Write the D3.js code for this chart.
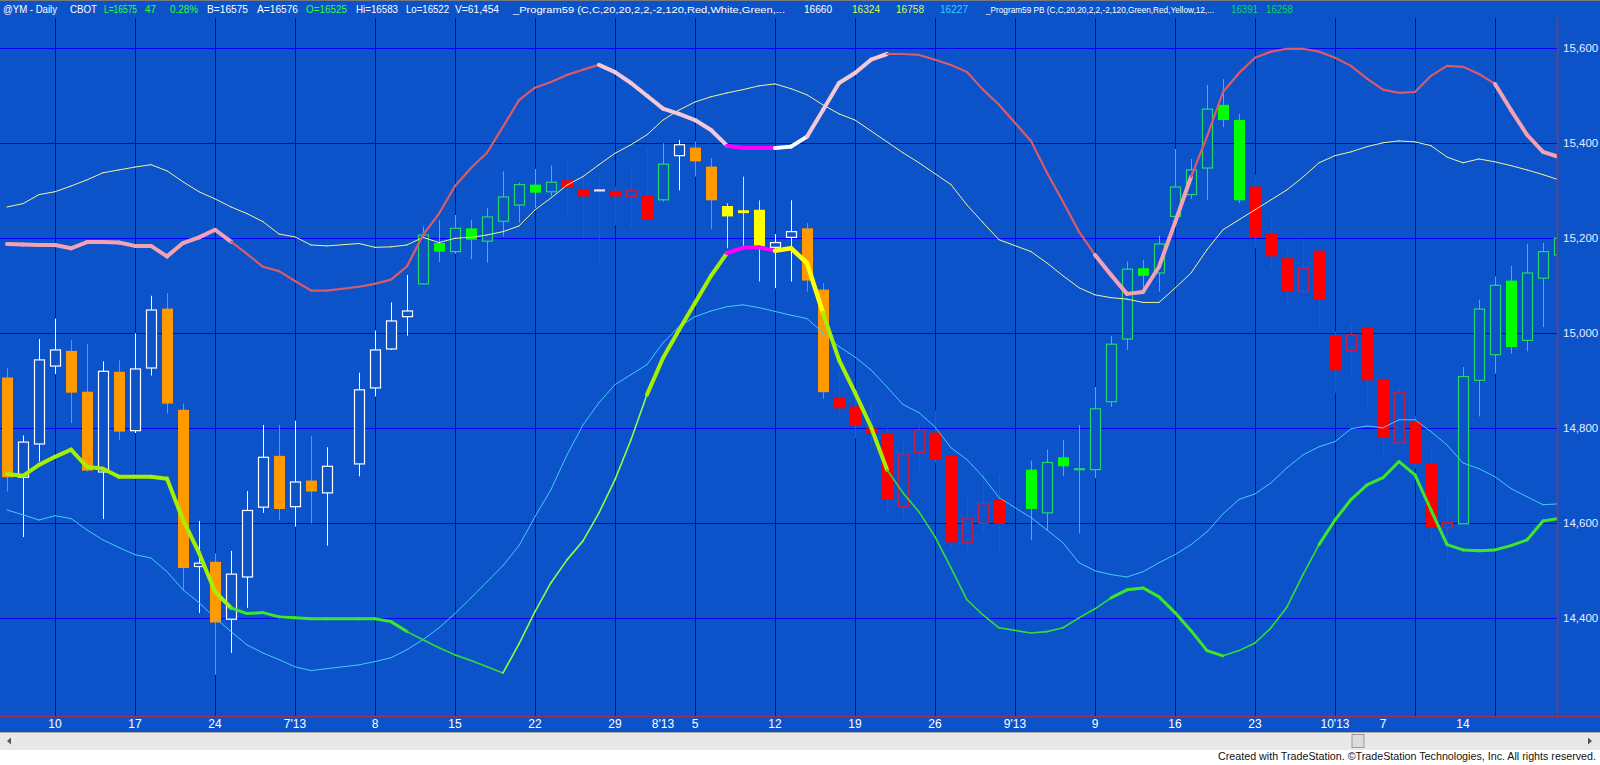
<!DOCTYPE html>
<html><head><meta charset="utf-8">
<script src="https://cdn.jsdelivr.net/npm/d3@7"></script>
<style>html,body{margin:0;padding:0;background:#fff;overflow:hidden}</style>
</head><body><svg id="c" width="1600" height="765"></svg>
<script>
// ---------- DATA ----------
const opens  = [14907,14697,14767,14931,14963,14877,14708,14919,14795,14927,15052,14839,14509,14519,14398,14487,14634,14742,14635,14690,14664,null,14725,14885,14967,15035,15104,15190,15172,15221,15194,15236,15270,15313,15298,15322,15304,15301,15300,15288,15289,15281,15374,15391,15351,15268,15259,15260,15181,15202,15221,15092,14864,14846,14800,14790,14635,14749,14791,14742,14560,14600,14650,null,14713,14622,14739,14714,14713,14856,14988,15137,15127,15246,15292,15348,15481,15449,15309,15209,15158,15088,15174,14995,14964,15013,14904,14769,14814,14725,14591,14599,14901,14955,15111,14985,15116,15165];
const highs  = [14927,14785,14988,15031,14986,14978,14941,14943,15000,15079,15085,14852,14605,14537,14542,14668,14807,14807,14816,14784,14760,null,14917,15006,15065,15123,15225,15239,15249,15239,15264,15341,15317,15346,15353,15367,15327,15327,15309,15346,15388,15400,15407,15404,15369,15274,15330,15280,15209,15280,15232,15106,14917,14867,14853,14800,14772,14814,14838,14744,14658,14709,14702,null,14732,14755,14776,14807,14887,14995,15151,15155,15206,15388,15367,15523,15535,15462,15334,15249,15184,15197,15174,15004,15018,15013,14904,14885,14826,14758,14660,14929,15071,15120,15142,15188,15190,15210];
const lows   = [14667,14571,14730,14914,14811,14709,14609,14776,14790,14911,14831,14460,14411,14281,14327,14422,14622,14607,14593,14600,14553,null,14699,14867,14965,14995,15104,15150,15167,15156,15149,15204,15233,15264,15289,15242,15200,15146,15228,15221,15239,15277,15301,15330,15219,15179,15183,15109,15095,15109,15088,14862,14832,14779,14762,14628,14604,14706,14727,14548,14541,14583,14544,null,14565,14586,14699,14579,14695,14845,14965,15092,15088,15246,15283,15281,15434,15274,15179,15137,15060,15085,15011,14875,14909,14845,14741,14769,14716,14563,14525,14599,14825,14915,14957,14962,15013,15150];
const closes = [14697,14771,14944,14965,14875,14711,14920,14793,14925,15049,14852,14506,14516,14391,14493,14627,14739,14630,14687,14667,14720,null,14881,14965,15026,15047,15207,15172,15221,15197,15245,15287,15313,15296,15318,15306,15288,15301,15288,15301,15239,15356,15397,15362,15280,15246,15253,15183,15191,15214,15111,14876,14842,14806,14790,14651,14746,14797,14735,14560,14611,14641,14599,null,14630,14728,14720,14714,14841,14977,15135,15121,15188,15308,15344,15472,15449,15280,15202,15162,15087,15137,15072,14922,14997,14901,14781,14876,14727,14590,14602,14909,15051,15101,14971,15127,15172,15200];
// candle colour regime: o = orange/white, g = green, r = red, y = yellow
const barState = "oooooooooooooooooooooooooogggggggggrrrrrrgoooyyyyyoorrrrrrrrrrrrggggggggggggggrrrrrrrrrrrrrggggggg".split("");

// indicator lines
const upperBand = [15188,15187,15186,15186,15179,15192,15192,15191,15184,15184,15162,15190,15202,15218,15193,15167,15140,15131,15110,15090,15090,null,15098,15104,15113,15141,15207,15252,15310,15348,15380,15435,15491,15517,15529,15544,15555,15565,15550,15527,15500,15473,15462,15449,15428,15395,15390,15390,15390,15393,15414,15470,15527,15548,15576,15588,15588,15586,15576,15565,15550,15513,15481,null,15405,15338,15277,15214,15165,15123,15083,15087,15140,15233,15329,15414,15508,15548,15580,15593,15599,15599,15593,15580,15563,15536,15513,15506,15508,15542,15563,15561,15546,15525,15470,15418,15382,15371];
const upperBandState = "pppppppppppppprrrrrrrrrrrrrrrrrrrrrrrllllllllmmmwwlllllrrrrrrrrrrrrrpppppprrrrrrrrrrrrrrrrrrrppppp".split("");
const upperMid = [15266,15273,15292,15298,15310,15323,15338,15344,15350,15355,15342,15319,15298,15283,15266,15252,15235,15209,15203,15186,15184,null,15189,15181,15182,15186,15202,15191,15200,15202,15207,15214,15226,15260,15285,15312,15330,15355,15379,15397,15418,15449,15470,15487,15498,15506,15513,15521,15525,15515,15502,15481,15462,15449,15426,15403,15380,15359,15336,15313,15270,15233,15197,null,15172,15148,15121,15096,15081,15075,15072,15065,15065,15095,15127,15176,15218,15239,15260,15281,15302,15329,15359,15374,15382,15393,15401,15405,15403,15395,15371,15359,15367,15361,15353,15344,15334,15323];
const lowerBand = [14704,14700,14723,14740,14755,14719,14715,14698,14698,14698,14694,14607,14538,14456,14422,14410,14412,14403,14401,14399,14399,null,14399,14399,14393,14372,14355,14338,14323,14311,14298,14285,14346,14414,14475,14523,14563,14622,14692,14776,14871,14948,15007,15064,15121,15169,15180,15181,15174,15179,15148,15043,14944,14875,14803,14713,14664,14624,14572,14506,14439,14407,14380,null,14369,14372,14380,14401,14420,14443,14460,14464,14445,14412,14374,14332,14321,14332,14348,14380,14424,14492,14555,14607,14650,14681,14696,14730,14702,14628,14555,14544,14542,14544,14553,14565,14605,14610];
const lowerBandState = "YYYYYYYYYYYYYYGGGGGGGGGGGttttttlllllllllYYYYYmmmyyyYYYYttttttttttttttGGGGGGGttttttGGGGGGGGGGGGGGGG".split("");
const lowerMid = [14628,14618,14607,14616,14610,14586,14565,14549,14534,14527,14498,14460,14433,14401,14372,14344,14327,14313,14298,14290,14294,null,14302,14309,14317,14334,14355,14380,14410,14443,14477,14511,14553,14614,14671,14744,14807,14854,14892,14913,14934,14980,15014,15035,15047,15056,15060,15054,15046,15038,15031,15001,14972,14950,14923,14887,14850,14833,14803,14759,14734,14698,14654,null,14612,14586,14559,14517,14500,14492,14487,14498,14517,14534,14555,14582,14620,14650,14662,14685,14717,14744,14761,14772,14799,14805,14801,14818,14818,14793,14765,14727,14715,14698,14673,14656,14639,14641];

// axis labels
const xTickIndex = [3,8,13,18,23,28,33,38,41,43,48,53,58,63,68,73,78,83,86,91];
const xTickLabel = ["10","17","24","7'13","8","15","22","29","8'13","5","12","19","26","9'13","9","16","23","10'13","7","14"];
const yTicks = [14400,14600,14800,15000,15200,15400,15600];

const headerParts = [
  ["@YM - Daily","w"],["CBOT","w"],["L=16575","g"],["47","g"],["0.28%","g"],["B=16575","w"],["A=16576","w"],
  ["O=16525","g"],["Hi=16583","w"],["Lo=16522","w"],["V=61,454","w"],
  ["_Program59 (C,C,20,20,2,2,-2,120,Red,White,Green,...","w"],["16660","w"],["16324","yg"],["16758","yg"],["16227","c"],
  ["_Program59 PB (C,C,20,20,2,2,-2,120,Green,Red,Yellow,12,...","w"],["16391","g2"],["16258","g2"]
];
const headerX = [3,70,104,145,170,207,257,306,356,406,455,513,804,852,896,940,986,1231,1266];
const headerW = [54,27,33,11,28,41,41,41,42,43,44,272,28,28,28,28,228,27,27];
const footerText = "Created with TradeStation. \u00A9TradeStation Technologies, Inc. All rights reserved.";

// ---------- DRAWING ----------
const W=1600, H=765;
const plotL=0, plotR=1557, plotT=18, plotB=716;
const BG="#0c53c9", GRID="#0000ff";
const svg=d3.select("#c");

svg.append("rect").attr("x",0).attr("y",0).attr("width",W).attr("height",732).attr("fill",BG);
svg.append("line").attr("x1",0).attr("x2",W).attr("y1",0.5).attr("y2",0.5).attr("stroke","#7a7a7a");
// scrollbar strip and footer
svg.append("rect").attr("x",0).attr("y",732).attr("width",W).attr("height",18).attr("fill","#e8e8e8");
svg.append("line").attr("x1",0).attr("x2",W).attr("y1",732.5).attr("y2",732.5).attr("stroke","#a8a8a8");
svg.append("rect").attr("x",0).attr("y",750).attr("width",W).attr("height",15).attr("fill","#ffffff");

const x=d3.scaleLinear().domain([0,97]).range([7,7+16*97]);
const y=d3.scaleLinear().domain([14400,15600]).range([618.3,48.3]);

svg.append("defs").append("clipPath").attr("id","pc").append("rect")
  .attr("x",plotL).attr("y",plotT).attr("width",plotR-plotL).attr("height",plotB-plotT);
const g=svg.append("g").attr("clip-path","url(#pc)");

// grid
g.selectAll(".hg").data(yTicks).join("line").attr("x1",plotL).attr("x2",plotR)
  .attr("y1",d=>Math.round(y(d))+0.5).attr("y2",d=>Math.round(y(d))+0.5).attr("stroke",GRID).attr("stroke-width",1);
g.selectAll(".vg").data(d3.range(3,98,5)).join("line").attr("y1",plotT).attr("y2",plotB)
  .attr("x1",d=>Math.round(x(d))+0.5).attr("x2",d=>Math.round(x(d))+0.5).attr("stroke",GRID).attr("stroke-width",1);

// candles
const colors={
  o:{down:"#ff9900",up:"#ffffff",wickDown:"#a48a62",wickUp:"#ffffff",doji:"#ffffff"},
  y:{down:"#ffff00",up:"#ffffff",wickDown:"#e8e890",wickUp:"#ffffff",doji:"#ffff00"},
  g:{down:"#00ff00",up:"#22d86a",wickDown:"#22d86a",wickUp:"#22d86a",doji:"#22d86a"},
  r:{down:"#ff0000",up:"#c4204e",wickDown:"#c4204e",wickUp:"#c4204e",doji:"#ffdce4"}
};
const bars=d3.range(opens.length).filter(i=>opens[i]!==null);
const cg=g.append("g");
bars.forEach(i=>{
  const st=colors[barState[i]], cx=Math.round(x(i))+0.5;
  const o=opens[i], c=closes[i], up=c>=o;
  cg.append("line").attr("x1",cx).attr("x2",cx).attr("y1",y(highs[i])).attr("y2",y(lows[i]))
    .attr("stroke",up?st.wickUp:st.wickDown).attr("stroke-width",1);
  const top=y(Math.max(o,c)), bot=y(Math.min(o,c));
  if(o===c){
    cg.append("rect").attr("x",cx-5.5).attr("y",top-1).attr("width",11).attr("height",2.2).attr("fill",st.doji);
  } else if(up){
    cg.append("rect").attr("x",cx-5).attr("y",top).attr("width",10).attr("height",Math.max(bot-top,1))
      .attr("fill",BG).attr("stroke",st.up).attr("stroke-width",1.2);
  } else {
    cg.append("rect").attr("x",cx-5.5).attr("y",top).attr("width",11).attr("height",Math.max(bot-top,2))
      .attr("fill",st.down);
  }
});

// lines
function segLine(vals,states,styleMap){
  const lg=g.append("g").attr("fill","none").attr("stroke-linecap","round").attr("stroke-linejoin","round");
  const idx=d3.range(vals.length).filter(i=>vals[i]!==null);
  for(let k=0;k<idx.length-1;k++){
    const a=idx[k], b=idx[k+1], s=styleMap[states?states[a]:"_"];
    lg.append("line").attr("x1",x(a)).attr("y1",y(vals[a])).attr("x2",x(b)).attr("y2",y(vals[b]))
      .attr("stroke",s[0]).attr("stroke-width",s[1]);
  }
}
segLine(lowerMid,null,{_:["#3fcdf4",1]});
segLine(upperMid,null,{_:["#f2f49c",1]});
segLine(upperBand,upperBandState,{p:["#f3a2b4",4],r:["#d95a68",2.2],l:["#f6c8d6",4],m:["#ff00ff",4],w:["#ffffff",4]});
segLine(lowerBand,lowerBandState,{Y:["#a6ef00",4],G:["#3ee62a",3],t:["#33dd33",1.6],l:["#88ff44",1.6],m:["#ff00ff",4],y:["#ffff00",4.5]});

// borders
svg.append("line").attr("x1",plotR+0.5).attr("x2",plotR+0.5).attr("y1",plotT).attr("y2",plotB).attr("stroke","#a0304e").attr("stroke-width",1.5);
svg.append("line").attr("x1",0).attr("x2",W).attr("y1",plotB+0.5).attr("y2",plotB+0.5).attr("stroke","#a0304e").attr("stroke-width",1.5);

// y axis labels
svg.selectAll(".yl").data(yTicks).join("text").attr("x",1563).attr("y",d=>y(d)+4)
  .attr("fill","#e8ecff").attr("font-family","Liberation Sans, Arial, sans-serif").attr("font-size",11.5)
  .text(d=>d3.format(",")(d));
// x axis labels
svg.selectAll(".xl").data(xTickIndex).join("text").attr("x",d=>x(d)).attr("y",plotB+12)
  .attr("text-anchor","middle").attr("fill","#ffffff")
  .attr("font-family","Liberation Sans Narrow, Liberation Sans, Arial, sans-serif").attr("font-size",12)
  .text((d,i)=>xTickLabel[i]);

// header
const hc={w:"#ffffff",g:"#33ff33",yg:"#ccff55",c:"#33ccff",g2:"#00dd55"};
svg.selectAll(".hd").data(headerParts).join("text").attr("x",(d,i)=>headerX[i]).attr("y",13)
  .attr("fill",d=>hc[d[1]]).attr("font-family","Liberation Sans, Arial, sans-serif")
  .attr("font-size",d=>d[0].length>20?8.6:10.2)
  .attr("textLength",(d,i)=>headerW[i]).attr("lengthAdjust","spacingAndGlyphs")
  .text(d=>d[0]);

// scrollbar arrows / thumb
svg.append("path").attr("d","M7,741 L11,737.5 L11,744.5 Z").attr("fill","#555");
svg.append("path").attr("d","M1592,741 L1588,737.5 L1588,744.5 Z").attr("fill","#555");
svg.append("rect").attr("x",1352).attr("y",734.5).attr("width",12).attr("height",13).attr("fill","#dcdcdc").attr("stroke","#9a9a9a");

// footer
svg.append("text").attr("x",1596).attr("y",760).attr("text-anchor","end").attr("fill","#111")
  .attr("font-family","Liberation Sans Narrow, Liberation Sans, Arial, sans-serif").attr("font-size",10.5)
  .attr("textLength",378).attr("lengthAdjust","spacingAndGlyphs").text(footerText);
</script></body></html>
